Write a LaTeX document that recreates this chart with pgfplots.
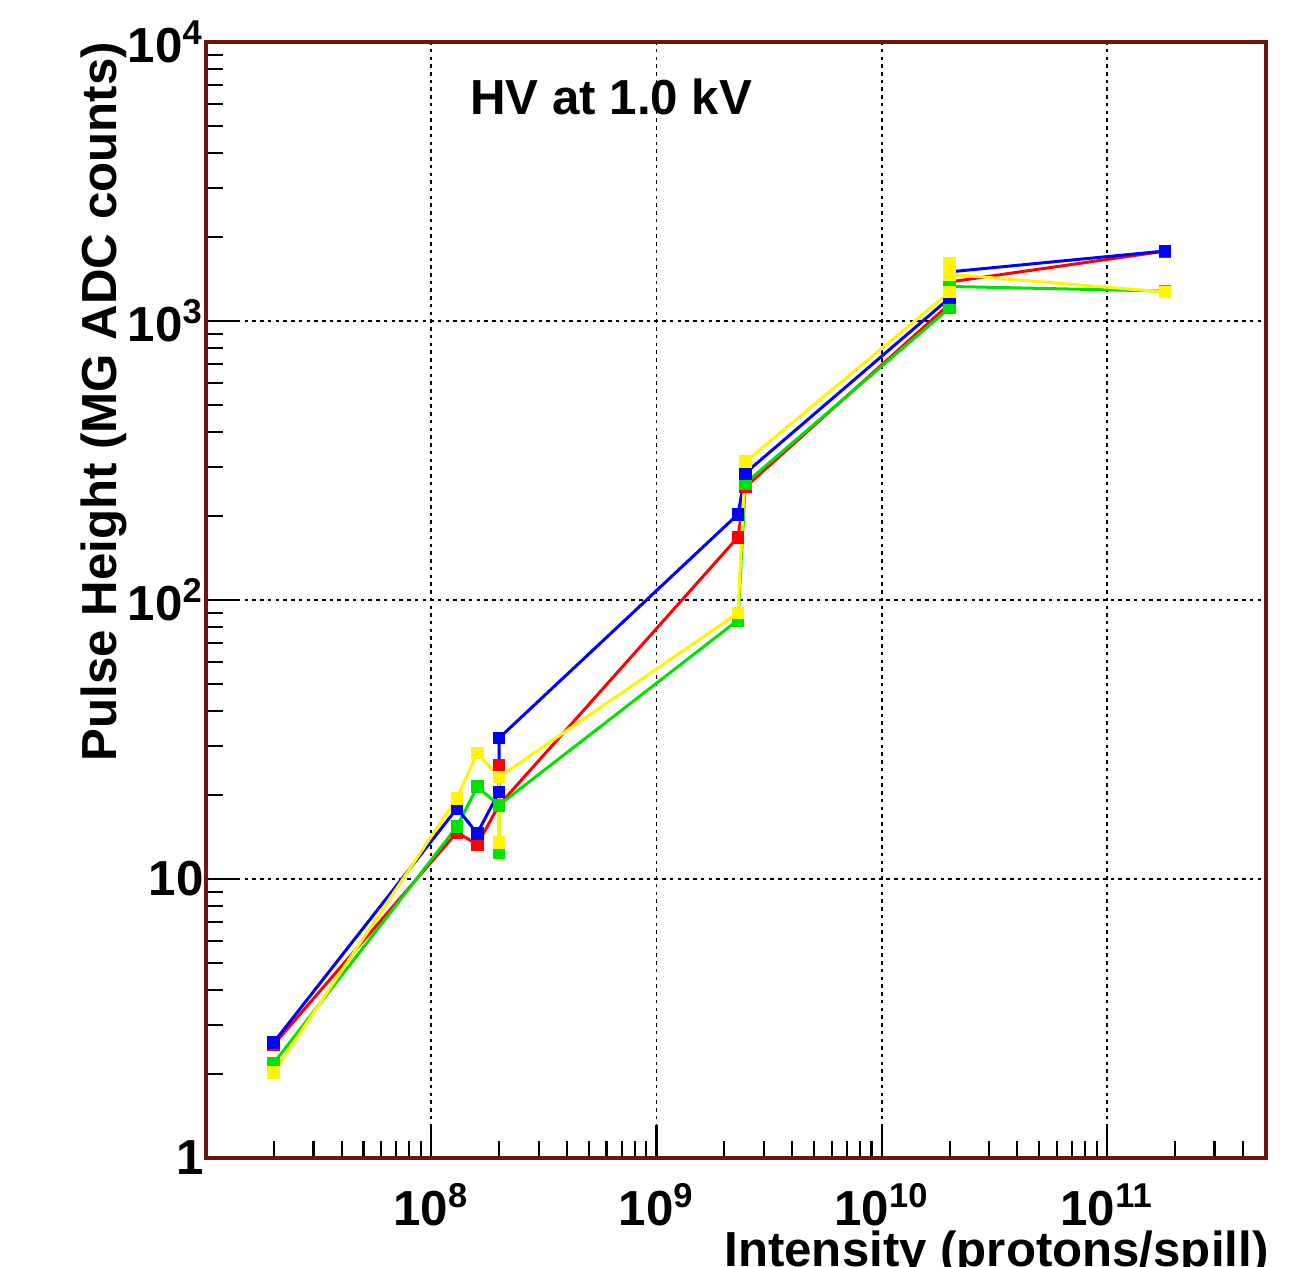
\documentclass[border=0pt]{standalone}
\usepackage{fontspec}
\setmainfont{Liberation Sans}
\usepackage{pgfplots}
\pgfplotsset{compat=1.18}

\definecolor{framered}{RGB}{110,20,20}
\definecolor{rootgreen}{RGB}{0,225,0}
\definecolor{rootyellow}{RGB}{255,245,0}

\newcommand{\lbl}{\fontsize{14}{16}\selectfont\bfseries}

\begin{document}
\begin{tikzpicture}
\begin{axis}[
  name=ax,
  scale only axis,
  width=10.6cm, height=11.16cm,
  xmode=log, ymode=log,
  xmin=1e7, xmax=5.08e11,
  ymin=1, ymax=1e4,
  xtick={1e7,1e8,1e9,1e10,1e11},
  xticklabels={,10\textsuperscript{8},10\textsuperscript{9},10\textsuperscript{10},10\textsuperscript{11}},
  ytick={1,10,100,1000,10000},
  yticklabels={1,10,10\textsuperscript{2},10\textsuperscript{3},10\textsuperscript{4}},
  minor xtick={2e7,3e7,4e7,5e7,6e7,7e7,8e7,9e7,
               2e8,3e8,4e8,5e8,6e8,7e8,8e8,9e8,
               2e9,3e9,4e9,5e9,6e9,7e9,8e9,9e9,
               2e10,3e10,4e10,5e10,6e10,7e10,8e10,9e10,
               2e11,3e11,4e11},
  minor ytick={2,3,4,5,6,7,8,9,20,30,40,50,60,70,80,90,
               200,300,400,500,600,700,800,900,
               2000,3000,4000,5000,6000,7000,8000,9000},
  xtick pos=bottom, ytick pos=left,
  tick align=inside,
  major tick length=0.33cm,
  minor tick length=0.17cm,
  every tick/.style={black, line width=0.6pt},
  xmajorgrids, ymajorgrids,
  major grid style={black, line width=0.5pt, dash pattern=on 1pt off 1.2pt},
  axis line style={draw=framered, line width=1pt},
  tick label style={font=\lbl},
  xticklabel style={yshift=-0.13cm},
  yticklabel style={xshift=0.1cm},
  label style={font=\lbl},
  xlabel={Intensity (protons/spill)},
  xlabel style={at={(rel axis cs:1.014,-0.0968)}, anchor=base east},
  ylabel={Pulse Height (MG ADC counts)},
  ylabel style={at={(rel axis cs:-0.0962,1.011)}, anchor=east},
  every axis plot/.append style={line width=0.85pt, mark=square*, mark size=1.4pt},
]
% red
\addplot[red, mark options={fill=red}] coordinates {
  (2e7,2.55) (1.3e8,14.7) (1.6e8,13.3) (2e8,18.4) (2e8,25.6) (2e8,18.4)
  (2.3e9,168) (2.48e9,254) (2e10,1150) (2e10,1380) (1.81e11,1780)};
% green
\addplot[rootgreen, mark options={fill=rootgreen}] coordinates {
  (2e7,2.19) (1.3e8,15.4) (1.6e8,21.4) (2e8,18.4) (2e8,12.4) (2e8,18.4)
  (2.3e9,84.7) (2.48e9,262) (2e10,1114) (2e10,1330) (1.81e11,1280)};
% blue
\addplot[blue, mark options={fill=blue}] coordinates {
  (2e7,2.6) (1.3e8,17.9) (1.6e8,14.6) (2e8,20.5) (2e8,32)
  (2.3e9,203) (2.48e9,285) (2e10,1209) (2e10,1500) (1.81e11,1782)};
% yellow
\addplot[rootyellow, mark options={fill=rootyellow}] coordinates {
  (2e7,2.03) (1.3e8,19.5) (1.6e8,28.3) (2e8,23.2) (2e8,13.5) (2e8,23.2)
  (2.3e9,89.8) (2.48e9,313) (2e10,1270) (2e10,1614) (2e10,1470) (1.81e11,1270)};

\node[anchor=west, font=\lbl] at (rel axis cs:0.2377,0.951) {HV at 1.0 kV};
\end{axis}
\pgfresetboundingbox
\path[use as bounding box] ([shift={(-2.06cm,-1.08cm)}]ax.south west)
  rectangle ([shift={(0.36cm,0.42cm)}]ax.north east);
\end{tikzpicture}
\end{document}
